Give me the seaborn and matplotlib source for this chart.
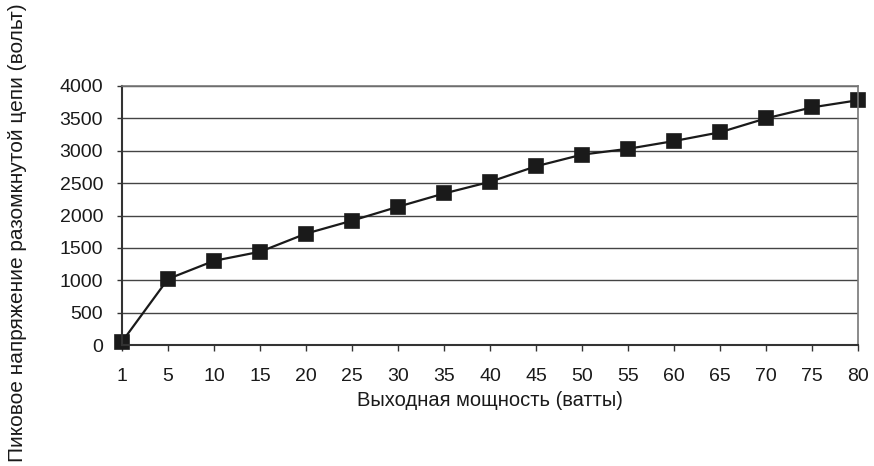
import numpy as np
import pandas as pd
import matplotlib
matplotlib.use("Agg")
import matplotlib.pyplot as plt
import seaborn as sns

# данные
power_labels = ["1", "5", "10", "15", "20", "25", "30", "35", "40",
                "45", "50", "55", "60", "65", "70", "75", "80"]
peak_voltage = [50, 1020, 1300, 1440, 1720, 1920, 2135, 2340, 2520,
                2760, 2940, 3030, 3150, 3285, 3500, 3670, 3780]
y_ticks = [0, 500, 1000, 1500, 2000, 2500, 3000, 3500, 4000]

df = pd.DataFrame({"power": power_labels, "voltage": peak_voltage})

sns.set_theme(style="white")
plt.rcParams["font.family"] = ["Liberation Sans", "DejaVu Sans"]

fig = plt.figure(figsize=(8.74, 4.66), dpi=100)
ax = fig.add_axes([122 / 874, 1 - 345 / 466, (858 - 122) / 874, (345 - 86) / 466])

sns.pointplot(data=df, x="power", y="voltage", order=power_labels,
              color="#1a1a1a", markers="s", linestyles="-",
              markersize=9.5, linewidth=1.6, errorbar=None, ax=ax)

# маркеры на краях не обрезать
for art in ax.lines + ax.collections:
    art.set_clip_on(False)

ax.set_xlim(0, len(power_labels) - 1)
ax.set_ylim(0, 4000)
ax.set_yticks(y_ticks)
ax.set_yticklabels([str(v) for v in y_ticks])
ax.yaxis.grid(True, color="#444444", linewidth=1)
ax.set_axisbelow(True)

for side in ["left", "bottom"]:
    ax.spines[side].set_color("#333333")
    ax.spines[side].set_linewidth(1.5)
for side in ["top", "right"]:
    ax.spines[side].set_color("#777777")
    ax.spines[side].set_linewidth(1.2)

ax.tick_params(axis="x", bottom=True, length=4.3, width=1, color="#333333",
               labelsize=14, pad=12.5, labelcolor="#1a1a1a")
ax.tick_params(axis="y", left=True, length=3.6, width=1, color="#333333",
               labelsize=14, pad=10, labelcolor="#1a1a1a")

ax.set_xlabel("Выходная мощность (ватты)", fontsize=14.5, labelpad=4,
              color="#1a1a1a")
ax.set_ylabel("")
fig.text(18 / 874, 1 - 233 / 466, "Пиковое напряжение разомкнутой цепи (вольт)",
         rotation=90, ha="center", va="center", fontsize=15, color="#1a1a1a")

fig.savefig("out.png", dpi=100)
